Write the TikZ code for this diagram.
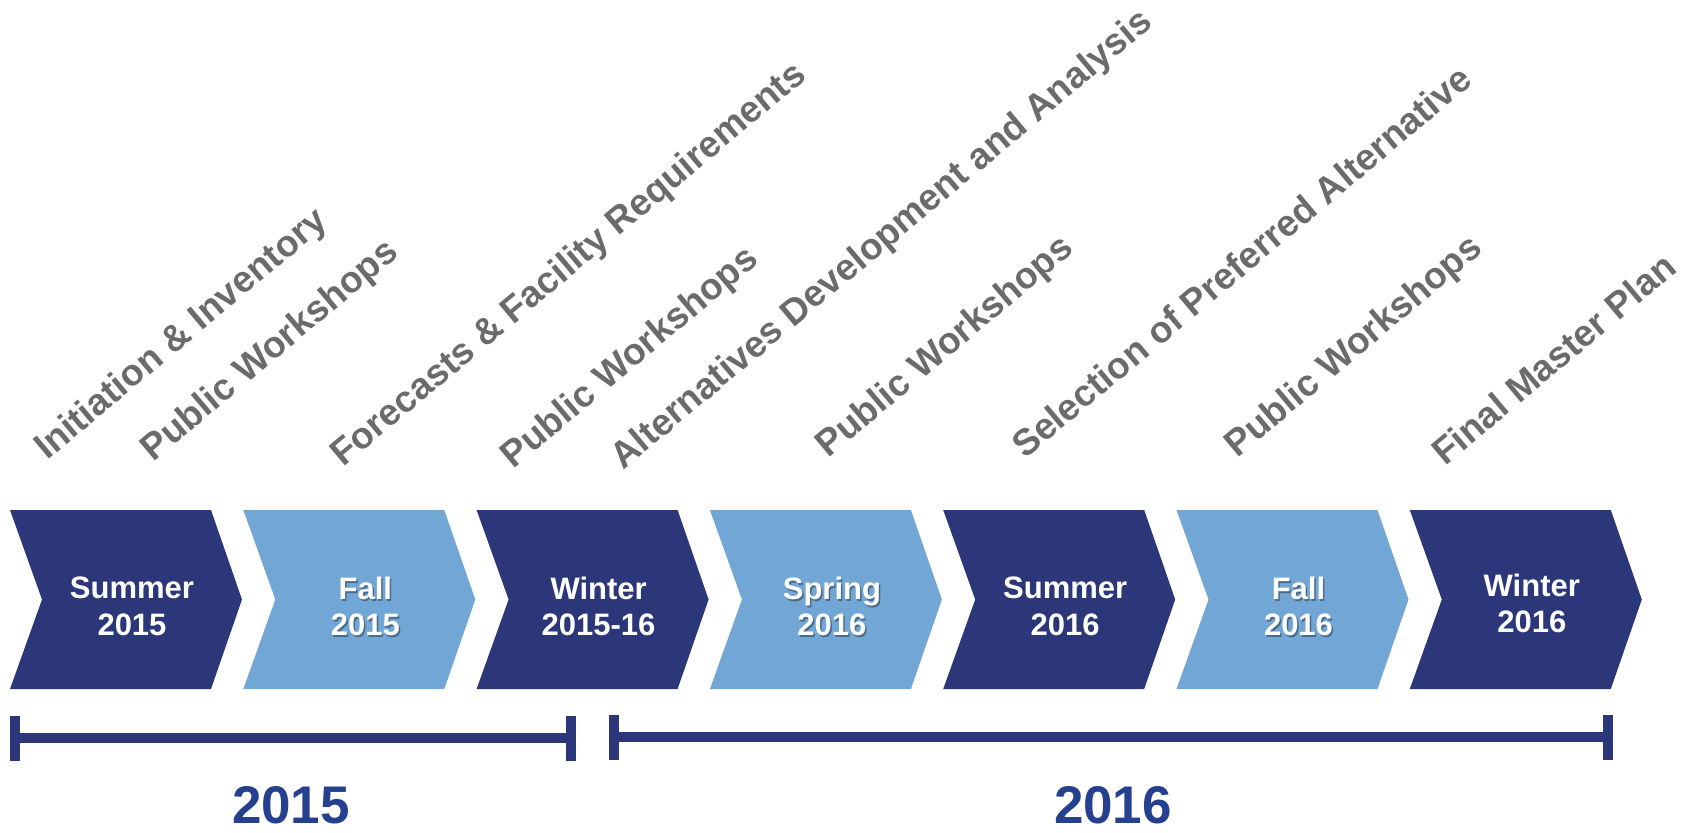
\documentclass[tikz,border=0pt]{standalone}
\usepackage{fontspec}
\setmainfont{Liberation Sans}
\definecolor{navy}{HTML}{2B3779}
\definecolor{sky}{HTML}{72A7D5}
\definecolor{yearblue}{HTML}{25408F}
\definecolor{labelgray}{HTML}{6B6B6B}
\tikzset{
  chevtext/.style={text=white, align=center, inner sep=0pt,
    font={\fontsize{15.5}{18.3}\selectfont\bfseries}},
  chevshadow/.style={chevtext, text=black, text opacity=0.35},
  lbl/.style={text=labelgray, inner sep=0pt, anchor=base west, rotate=40,
    font={\fontsize{18.5}{20}\selectfont\bfseries}},
  yearlbl/.style={text=yearblue, inner sep=0pt,
    font={\fontsize{26.5}{28}\selectfont\bfseries}},
  yrline/.style={draw=navy, line width=5pt},
  yrbar/.style={draw=navy, line width=5pt, line cap=butt},
}
\begin{document}
\begin{tikzpicture}[x=0.5pt,y=-0.5pt]
\useasboundingbox (0,0) rectangle (1694,832);
% chevrons
\foreach \i/\col/\ta/\tb/\ty/\sh in {0/navy/Summer/2015/606.5/0, 1/sky/Fall/2015/606.5/1,
  2/navy/Winter/2015-16/606.5/0, 3/sky/Spring/2016/606.5/1, 4/navy/Summer/2016/606.5/0,
  5/sky/Fall/2016/606.5/1, 6/navy/Winter/2016/603.5/0}{
  \pgfmathsetmacro{\xo}{10+233.3*\i}
  \fill[\col] (\xo,510) -- ({\xo+201},510) -- ({\xo+232},599.5) -- ({\xo+201},689)
     -- (\xo,689) -- ({\xo+32},599.5) -- cycle;
  \ifnum\sh=1
    \node[chevshadow] (s\i) at ({\xo+123.5},{\ty+1.8}) {\ta\\\tb};
  \fi
  \node[chevtext] (c\i) at ({\xo+122},\ty) {\ta\\\tb};
}
% rotated labels
\node[lbl] (l1) at (47,461) {Initiation \& Inventory};
\node[lbl] (l2) at (153,463) {Public Workshops};
\node[lbl] (l3) at (343,468) {Forecasts \& Facility Requirements};
\node[lbl] (l4) at (513,470) {Public Workshops};
\node[lbl] (l5) at (623,471) {Alternatives Development and Analysis};
\node[lbl] (l6) at (828,459) {Public Workshops};
\node[lbl] (l7) at (1025,460) {Selection of Preferred Alternative};
\node[lbl] (l8) at (1237,459) {Public Workshops};
\node[lbl] (l9) at (1445,467) {Final Master Plan};
% year brackets
\coordinate (a1) at (15,738);
\coordinate (a2) at (571,738);
\coordinate (b1) at (614,737);
\coordinate (b2) at (1607.5,737);
\draw[yrline] (a1) -- (a2);
\draw[yrline] (b1) -- (b2);
\draw[yrbar] ([yshift=-11.25pt]a1) -- ([yshift=11.25pt]a1);
\draw[yrbar] ([yshift=-11.25pt]a2) -- ([yshift=11.25pt]a2);
\draw[yrbar] ([yshift=-11.25pt]b1) -- ([yshift=11.25pt]b1);
\draw[yrbar] ([yshift=-11.25pt]b2) -- ([yshift=11.25pt]b2);
\node[yearlbl] (y1) at (291,805) {2015};
\node[yearlbl] (y2) at (1113,805) {2016};
\end{tikzpicture}
\end{document}
